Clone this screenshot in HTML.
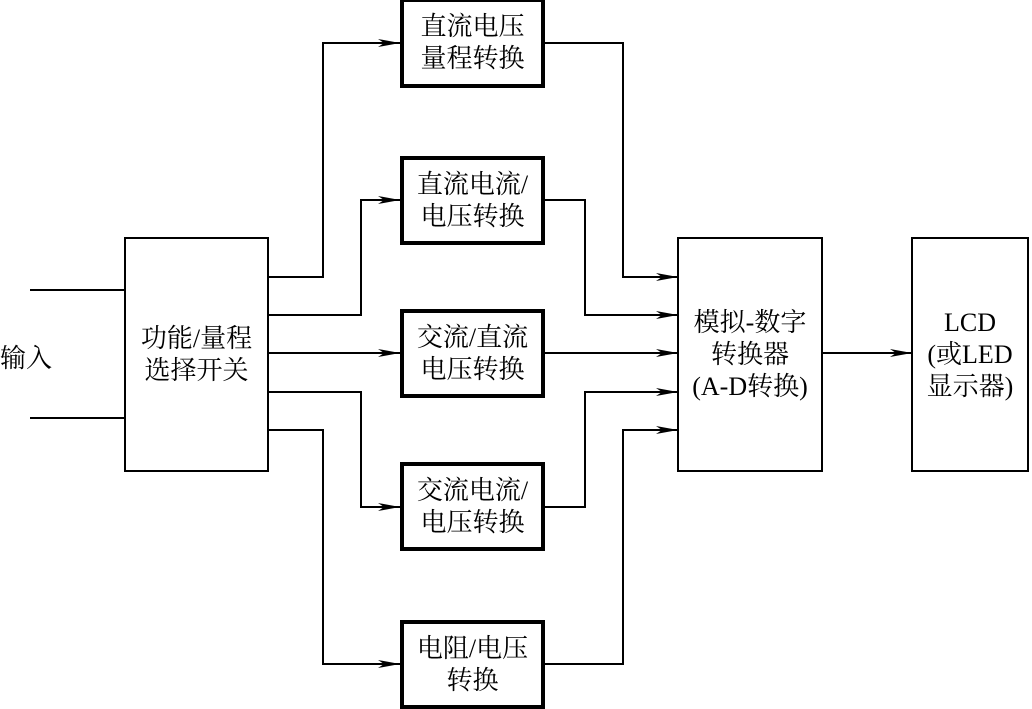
<!DOCTYPE html>
<html><head><meta charset="utf-8"><style>
body{margin:0;width:1032px;height:709px;background:#fff;overflow:hidden;position:relative;font-family:"Liberation Serif","Noto Serif CJK SC",serif;}
.b{position:absolute;box-sizing:border-box;border:3px solid #000;display:flex;align-items:center;justify-content:center;text-align:center;font-size:26px;line-height:32px;color:#000;}
.t{position:absolute;font-size:26px;}
</style></head><body>
<svg width="1032" height="709" style="position:absolute;left:0;top:0">
<defs><marker id="a" markerWidth="24" markerHeight="8" refX="22" refY="4" orient="auto" markerUnits="userSpaceOnUse"><path d="M0,0 L22,4 L0,8 L6,4z" fill="#000"/></marker></defs>
<g stroke="#000" stroke-width="2" fill="none">
<line x1="30" y1="290" x2="125" y2="290"/><line x1="30" y1="418" x2="125" y2="418"/>
<polyline points="267,277 323,277 323,43 400,43" marker-end="url(#a)"/>
<polyline points="267,315 361,315 361,200 400,200" marker-end="url(#a)"/>
<polyline points="267,353 400,353" marker-end="url(#a)"/>
<polyline points="267,392 361,392 361,507 400,507" marker-end="url(#a)"/>
<polyline points="267,430 323,430 323,664 400,664" marker-end="url(#a)"/>
<polyline points="545,43 623,43 623,277 678,277" marker-end="url(#a)"/>
<polyline points="545,200 585,200 585,315 678,315" marker-end="url(#a)"/>
<polyline points="545,353 678,353" marker-end="url(#a)"/>
<polyline points="545,507 585,507 585,392 678,392" marker-end="url(#a)"/>
<polyline points="545,664 623,664 623,430 678,430" marker-end="url(#a)"/>
<polyline points="822,353 912,353" marker-end="url(#a)"/>
</g></svg>
<div class="t" style="left:0;top:338px">输入</div>
<div class="b" style="left:124px;top:237px;width:145px;height:235px;border-width:2px">功能/量程<br>选择开关</div>
<div class="b" style="left:400px;top:-2px;width:145px;height:90px;border-width:4px">直流电压<br>量程转换</div>
<div class="b" style="left:400px;top:156px;width:145px;height:89px;border-width:4px">直流电流/<br>电压转换</div>
<div class="b" style="left:400px;top:309px;width:145px;height:89px;border-width:4px">交流/直流<br>电压转换</div>
<div class="b" style="left:400px;top:462px;width:145px;height:89px;border-width:4px">交流电流/<br>电压转换</div>
<div class="b" style="left:400px;top:620px;width:145px;height:89px;border-width:4px">电阻/电压<br>转换</div>
<div class="b" style="left:677px;top:237px;width:146px;height:235px;border-width:2px">模拟-数字<br>转换器<br>(A-D转换)</div>
<div class="b" style="left:911px;top:237px;width:118px;height:235px;border-width:2px">LCD<br>(或LED<br>显示器)</div>
</body></html>
